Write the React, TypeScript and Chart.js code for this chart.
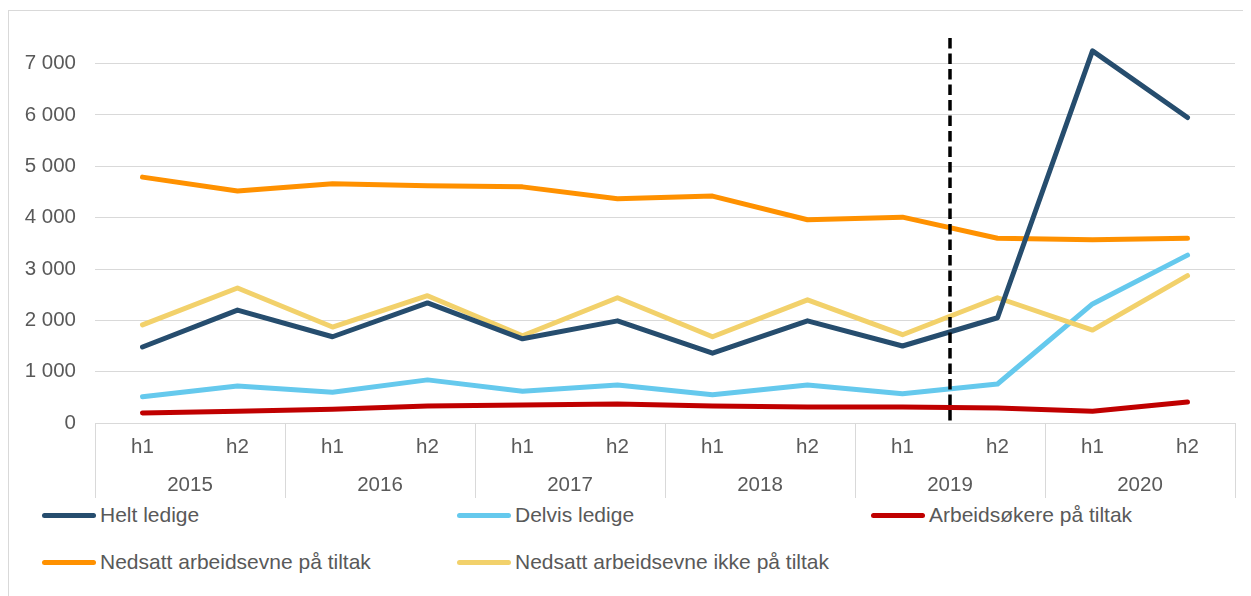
import React, { useEffect, useRef } from "react";
import { Chart, registerables } from "chart.js";

Chart.register(...registerables);

const halfYears = ["h1", "h2", "h1", "h2", "h1", "h2", "h1", "h2", "h1", "h2", "h1", "h2"];
const years = ["2015", "2016", "2017", "2018", "2019", "2020"];

const heltLedige = [1480, 2200, 1680, 2340, 1640, 1990, 1360, 1990, 1500, 2050, 7250, 5950];
const delvisLedige = [510, 720, 600, 840, 620, 740, 550, 740, 570, 760, 2320, 3270];
const arbeidsokereTiltak = [195, 230, 270, 330, 350, 370, 330, 310, 310, 290, 230, 410];
const nedsattTiltak = [4790, 4520, 4660, 4620, 4600, 4370, 4420, 3960, 4010, 3600, 3570, 3600];
const nedsattIkkeTiltak = [1910, 2630, 1870, 2480, 1700, 2440, 1680, 2400, 1720, 2440, 1810, 2870];

const seriesNames = [
  "Helt ledige",
  "Delvis ledige",
  "Arbeidsøkere på tiltak",
  "Nedsatt arbeidsevne på tiltak",
  "Nedsatt arbeidsevne ikke på tiltak",
];
const seriesColors = ["#264D6E", "#65C9ED", "#C00000", "#FF9100", "#F2D16B"];
const seriesData = [heltLedige, delvisLedige, arbeidsokereTiltak, nedsattTiltak, nedsattIkkeTiltak];

const yMax = 7500;
const yStep = 500;
const yLabelStep = 1000;
const dividerAfterIndex = 8; // dashed line between 2019 h1 and 2019 h2

const FONT = "'Liberation Sans', Arial, sans-serif";
const TEXT = "#595959";
const GRID = "#D9D9D9";

const fmt = (v: number) => {
  const s = Math.round(v).toString();
  return s.replace(/\B(?=(\d{3})+(?!\d))/g, " ");
};

const overlayPlugin = {
  id: "overlay",
  afterDraw(chart: any) {
    const ctx = chart.ctx;
    const x = chart.scales.x;
    const x2 = chart.scales.x2;
    const y = chart.scales.y;
    const area = chart.chartArea;
    ctx.save();
    ctx.strokeStyle = GRID;
    ctx.lineWidth = 1;
    for (let i = 0; i <= halfYears.length; i += 2) {
      let px: number;
      if (i === 0) px = area.left;
      else if (i === halfYears.length) px = area.right;
      else px = (x.getPixelForValue(i - 1) + x.getPixelForValue(i)) / 2;
      px = Math.round(px) + 0.5;
      ctx.beginPath();
      ctx.moveTo(px, area.bottom);
      ctx.lineTo(px, x2.bottom);
      ctx.stroke();
    }
    const dx = (x.getPixelForValue(dividerAfterIndex) + x.getPixelForValue(dividerAfterIndex + 1)) / 2;
    ctx.strokeStyle = "#000000";
    ctx.lineWidth = 3.5;
    ctx.setLineDash([10.5, 5]);
    ctx.beginPath();
    ctx.moveTo(dx, y.getPixelForValue(yMax));
    ctx.lineTo(dx, y.getPixelForValue(0));
    ctx.stroke();
    ctx.restore();
  },
};

function LineChart() {
  const ref = useRef<HTMLCanvasElement | null>(null);
  useEffect(() => {
    if (!ref.current) return;
    const chart = new Chart(ref.current, {
      type: "line",
      data: {
        labels: halfYears.map((h, i) => `${h}-${i}`),
        datasets: seriesNames.map((name, i) => ({
          label: name,
          data: seriesData[i],
          borderColor: seriesColors[i],
          backgroundColor: seriesColors[i],
          borderWidth: 5,
          pointRadius: 0,
          pointHoverRadius: 0,
          tension: 0,
          borderCapStyle: "round" as const,
          borderJoinStyle: "round" as const,
          xAxisID: "x",
          order: i === 0 ? 0 : 5 - i,
        })),
      },
      options: {
        responsive: false,
        animation: false,
        events: [],
        layout: { padding: { top: 27, left: 0, right: 16, bottom: 3 } },
        plugins: {
          legend: { display: false },
          tooltip: { enabled: false },
        },
        scales: {
          x: {
            type: "category",
            position: "bottom",
            offset: true,
            grid: { display: false, drawTicks: false },
            border: { display: true, color: GRID, width: 1 },
            ticks: {
              color: TEXT,
              font: { family: FONT, size: 20.5 },
              padding: 12,
              maxRotation: 0,
              autoSkip: false,
              callback: (_v: any, i: number) => halfYears[i],
            },
            afterFit: (s: any) => {
              s.height = 38;
            },
          },
          x2: {
            type: "category",
            position: "bottom",
            labels: years,
            offset: true,
            grid: { display: false, drawTicks: false },
            border: { display: false },
            ticks: {
              color: TEXT,
              font: { family: FONT, size: 20.5 },
              padding: 12,
              maxRotation: 0,
              autoSkip: false,
            },
            afterFit: (s: any) => {
              s.height = 37;
            },
          },
          y: {
            min: 0,
            max: yMax,
            grid: {
              color: (c: any) =>
                c.tick && c.tick.value % yLabelStep === 0 ? GRID : "rgba(0,0,0,0)",
              lineWidth: 1,
              drawTicks: false,
            },
            border: { display: false },
            ticks: {
              stepSize: yStep,
              autoSkip: false,
              color: TEXT,
              font: { family: FONT, size: 20.5 },
              padding: 19,
              callback: (v: any) => (Number(v) % yLabelStep === 0 ? fmt(Number(v)) : ""),
            },
            afterFit: (s: any) => {
              s.width = 86;
              s.paddingTop = 0;
              s.paddingBottom = 0;
            },
          },
        },
      },
      plugins: [overlayPlugin],
    });
    return () => chart.destroy();
  }, []);
  return <canvas ref={ref} width={1242} height={490} style={{ display: "block", width: 1242, height: 490 }} />;
}

const legendRows: number[][] = [
  [0, 1, 2],
  [3, 4],
];
const legendCols = [33, 448, 862];
const legendRowY = [504, 551];

export default function App() {
  return (
    <div
      style={{
        position: "relative",
        marginTop: 2,
        borderLeft: `1px solid ${GRID}`,
        borderTop: `1px solid ${GRID}`,
        width: 1260,
        height: 600,
        boxSizing: "border-box",
        fontFamily: FONT,
      }}
    >
      <LineChart />
      {legendRows.map((row, r) =>
        row.map((si, c) => (
          <div
            key={si}
            style={{
              position: "absolute",
              left: legendCols[c],
              top: legendRowY[r] - 12,
              height: 24,
              display: "flex",
              alignItems: "center",
              whiteSpace: "nowrap",
            }}
          >
            <span
              style={{
                display: "inline-block",
                width: 54,
                height: 5,
                borderRadius: 3,
                background: seriesColors[si],
                marginRight: 4,
              }}
            />
            <span style={{ fontSize: 21, color: TEXT, lineHeight: "24px" }}>{seriesNames[si]}</span>
          </div>
        ))
      )}
    </div>
  );
}
